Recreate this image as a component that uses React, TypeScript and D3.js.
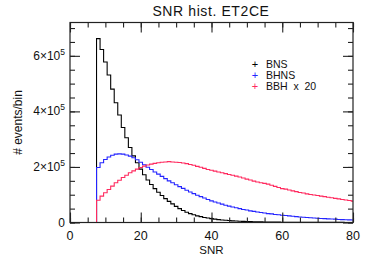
import React, { useRef, useEffect } from 'react';
import * as d3 from 'd3';

// SNR bin centres (width 1), values in units of 1e5 events/bin
const snrBins = d3.range(0, 81);

const bnsE5 = [
  0, 0, 0, 0, 0, 0, 0, 0,
  6.62, 6.23, 5.78, 5.31, 4.80, 4.31, 3.87, 3.42, 3.05, 2.70,
  2.40, 2.15, 1.92, 1.72, 1.53, 1.37, 1.22, 1.09, 0.97, 0.86,
  0.76, 0.67, 0.58, 0.50, 0.43, 0.37, 0.32, 0.28, 0.24, 0.21,
  0.18, 0.16, 0.14, 0.12, 0.105, 0.09, 0.08, 0.07, 0.06, 0.053,
  0.046, 0.04, 0.035, 0.031, 0.027, 0.024, 0.021, 0.019, 0.017, 0.015,
  0.013, 0.012, 0.011, 0.010, 0.009, 0.008, 0.0075, 0.007, 0.0065, 0.006,
  0.0055, 0.005, 0.0045, 0.004, 0.004, 0.0035, 0.0035, 0.003, 0.003, 0.003,
  0.0025, 0.0025, 0.002,
];

const bhnsE5 = [
  0, 0, 0, 0, 0, 0, 0, 0,
  1.98, 2.15, 2.27, 2.36, 2.42, 2.46, 2.47, 2.46, 2.43, 2.39,
  2.33, 2.26, 2.17, 2.08, 1.99, 1.91, 1.82, 1.74, 1.66, 1.58,
  1.50, 1.43, 1.36, 1.29, 1.23, 1.16, 1.10, 1.04, 0.98, 0.93,
  0.88, 0.83, 0.78, 0.74, 0.70, 0.66, 0.62, 0.59, 0.56, 0.53,
  0.50, 0.47, 0.45, 0.42, 0.40, 0.38, 0.36, 0.34, 0.32, 0.31,
  0.29, 0.28, 0.26, 0.25, 0.24, 0.225, 0.21, 0.20, 0.19, 0.18,
  0.17, 0.16, 0.155, 0.145, 0.14, 0.13, 0.125, 0.12, 0.11, 0.105,
  0.10, 0.095, 0.09,
];

const bbhX20E5 = [
  0, 0, 0, 0, 0, 0, 0, 0,
  0.80, 0.95, 1.07, 1.19, 1.31, 1.43, 1.52, 1.62, 1.70, 1.79,
  1.86, 1.92, 1.98, 2.03, 2.07, 2.10, 2.13, 2.15, 2.17, 2.18,
  2.19, 2.18, 2.17, 2.16, 2.14, 2.12, 2.09, 2.06, 2.02, 1.99,
  1.95, 1.91, 1.88, 1.85, 1.82, 1.79, 1.76, 1.73, 1.70, 1.67,
  1.64, 1.60, 1.56, 1.53, 1.49, 1.46, 1.43, 1.41, 1.38, 1.34,
  1.30, 1.26, 1.22, 1.20, 1.17, 1.14, 1.11, 1.08, 1.06, 1.03,
  1.01, 0.99, 0.97, 0.95, 0.93, 0.91, 0.89, 0.87, 0.85, 0.83,
  0.81, 0.79, 0.77,
];

const seriesNames = ['BNS', 'BHNS', 'BBH  x  20'];
const seriesColors = ['#000000', '#2424ff', '#ff2a5f'];

const xMajor = [0, 20, 40, 60, 80];
const xMinor = d3.range(0, 81, 5);
const yMajor = [0, 2, 4, 6];
const yMinor = d3.range(0, 7.01, 0.5);

const FONT = "'Liberation Sans', Arial, Helvetica, sans-serif";

const App: React.FC = () => {
  const svgRef = useRef<SVGSVGElement>(null);

  useEffect(() => {
    if (!svgRef.current) return;
    const width = 374;
    const height = 267;
    const left = 70, right = 353, top = 22.5, bottom = 222.5;

    const svg = d3.select(svgRef.current);
    svg.selectAll('*').remove();

    const x = d3.scaleLinear().domain([0, 80]).range([left, right]);
    const y = d3.scaleLinear().domain([0, 7.2]).range([bottom, top]);

    svg.append('defs').append('clipPath').attr('id', 'plotclip')
      .append('rect')
      .attr('x', left).attr('y', top - 2)
      .attr('width', right - left).attr('height', bottom - top + 4);

    // histograms
    const allSeries = [bnsE5, bhnsE5, bbhX20E5];
    const line = d3.line<number>()
      .x((_, i) => x(snrBins[i]))
      .y(d => y(d))
      .curve(d3.curveStep);

    const plot = svg.append('g').attr('clip-path', 'url(#plotclip)');
    allSeries.forEach((vals, k) => {
      plot.append('path')
        .datum(vals)
        .attr('d', line)
        .attr('fill', 'none')
        .attr('stroke', seriesColors[k])
        .attr('stroke-width', 1.1);
    });

    // frame
    svg.append('rect')
      .attr('x', left).attr('y', top)
      .attr('width', right - left).attr('height', bottom - top)
      .attr('fill', 'none').attr('stroke', '#222').attr('stroke-width', 1.2);

    const tickStyle = (g: d3.Selection<SVGGElement, unknown, null, undefined>) => {
      g.select('.domain').remove();
      g.selectAll('.tick line').attr('stroke', '#222').attr('stroke-width', 1.1);
      g.selectAll('.tick text').remove();
    };

    // x ticks, bottom and top, pointing inward
    svg.append('g').attr('transform', `translate(0,${bottom})`)
      .call(d3.axisBottom(x).tickValues(xMinor).tickSize(-5).tickFormat(() => ''))
      .call(tickStyle);
    svg.append('g').attr('transform', `translate(0,${bottom})`)
      .call(d3.axisBottom(x).tickValues(xMajor).tickSize(-10).tickFormat(() => ''))
      .call(tickStyle);
    svg.append('g').attr('transform', `translate(0,${top})`)
      .call(d3.axisTop(x).tickValues(xMinor).tickSize(-5).tickFormat(() => ''))
      .call(tickStyle);
    svg.append('g').attr('transform', `translate(0,${top})`)
      .call(d3.axisTop(x).tickValues(xMajor).tickSize(-10).tickFormat(() => ''))
      .call(tickStyle);

    // y ticks, left and right
    svg.append('g').attr('transform', `translate(${left},0)`)
      .call(d3.axisLeft(y).tickValues(yMinor).tickSize(-5).tickFormat(() => ''))
      .call(tickStyle);
    svg.append('g').attr('transform', `translate(${left},0)`)
      .call(d3.axisLeft(y).tickValues(yMajor).tickSize(-10).tickFormat(() => ''))
      .call(tickStyle);
    svg.append('g').attr('transform', `translate(${right},0)`)
      .call(d3.axisRight(y).tickValues(yMinor).tickSize(-5).tickFormat(() => ''))
      .call(tickStyle);
    svg.append('g').attr('transform', `translate(${right},0)`)
      .call(d3.axisRight(y).tickValues(yMajor).tickSize(-10).tickFormat(() => ''))
      .call(tickStyle);

    // x tick labels
    svg.append('g').selectAll('text')
      .data(xMajor)
      .enter()
      .append('text')
      .attr('x', d => x(d))
      .attr('y', bottom + 17)
      .attr('text-anchor', 'middle')
      .style('font-family', FONT)
      .style('font-size', '12.5px')
      .attr('fill', '#111')
      .text(d => `${d}`);

    // y tick labels
    const yl = svg.append('g').selectAll('text')
      .data(yMajor)
      .enter()
      .append('text')
      .attr('x', left - 5)
      .attr('y', d => y(d) + 4)
      .attr('text-anchor', 'end')
      .style('font-family', FONT)
      .style('font-size', '12px')
      .attr('fill', '#111');
    yl.each(function (d) {
      const t = d3.select(this);
      if (d === 0) {
        t.text('0');
      } else {
        t.append('tspan').text(`${d}\u00d710`);
        t.append('tspan').attr('dy', -5).style('font-size', '8.5px').text('5');
      }
    });

    // axis titles
    svg.append('text')
      .attr('x', (left + right) / 2)
      .attr('y', 254)
      .attr('text-anchor', 'middle')
      .style('font-family', FONT)
      .style('font-size', '11.5px')
      .attr('fill', '#111')
      .text('SNR');

    svg.append('text')
      .attr('transform', `translate(22,${(top + bottom) / 2}) rotate(-90)`)
      .attr('text-anchor', 'middle')
      .style('font-family', FONT)
      .style('font-size', '12px')
      .attr('fill', '#111')
      .text('# events/bin');

    // title
    svg.append('text')
      .attr('x', 211)
      .attr('y', 16)
      .attr('text-anchor', 'middle')
      .style('font-family', FONT)
      .style('font-size', '14px')
      .style('letter-spacing', '0.6px')
      .attr('fill', '#111')
      .text('SNR hist. ET2CE');

    // legend
    const legend = svg.append('g');
    seriesNames.forEach((name, k) => {
      const ly = 68 + k * 11;
      legend.append('text')
        .attr('x', 255)
        .attr('y', ly)
        .attr('text-anchor', 'middle')
        .style('font-family', FONT)
        .style('font-size', '11px')
        .attr('fill', seriesColors[k])
        .text('+');
      legend.append('text')
        .attr('x', 266)
        .attr('y', ly)
        .attr('xml:space', 'preserve')
        .style('white-space', 'pre')
        .style('font-family', FONT)
        .style('font-size', '10.5px')
        .attr('fill', '#111')
        .text(name);
    });

    svg.attr('width', width).attr('height', height);
  }, []);

  return (
    <svg
      ref={svgRef}
      width={374}
      height={267}
      style={{ position: 'absolute', left: 0, top: 0, display: 'block', background: '#fff' }}
    />
  );
};

export default App;
